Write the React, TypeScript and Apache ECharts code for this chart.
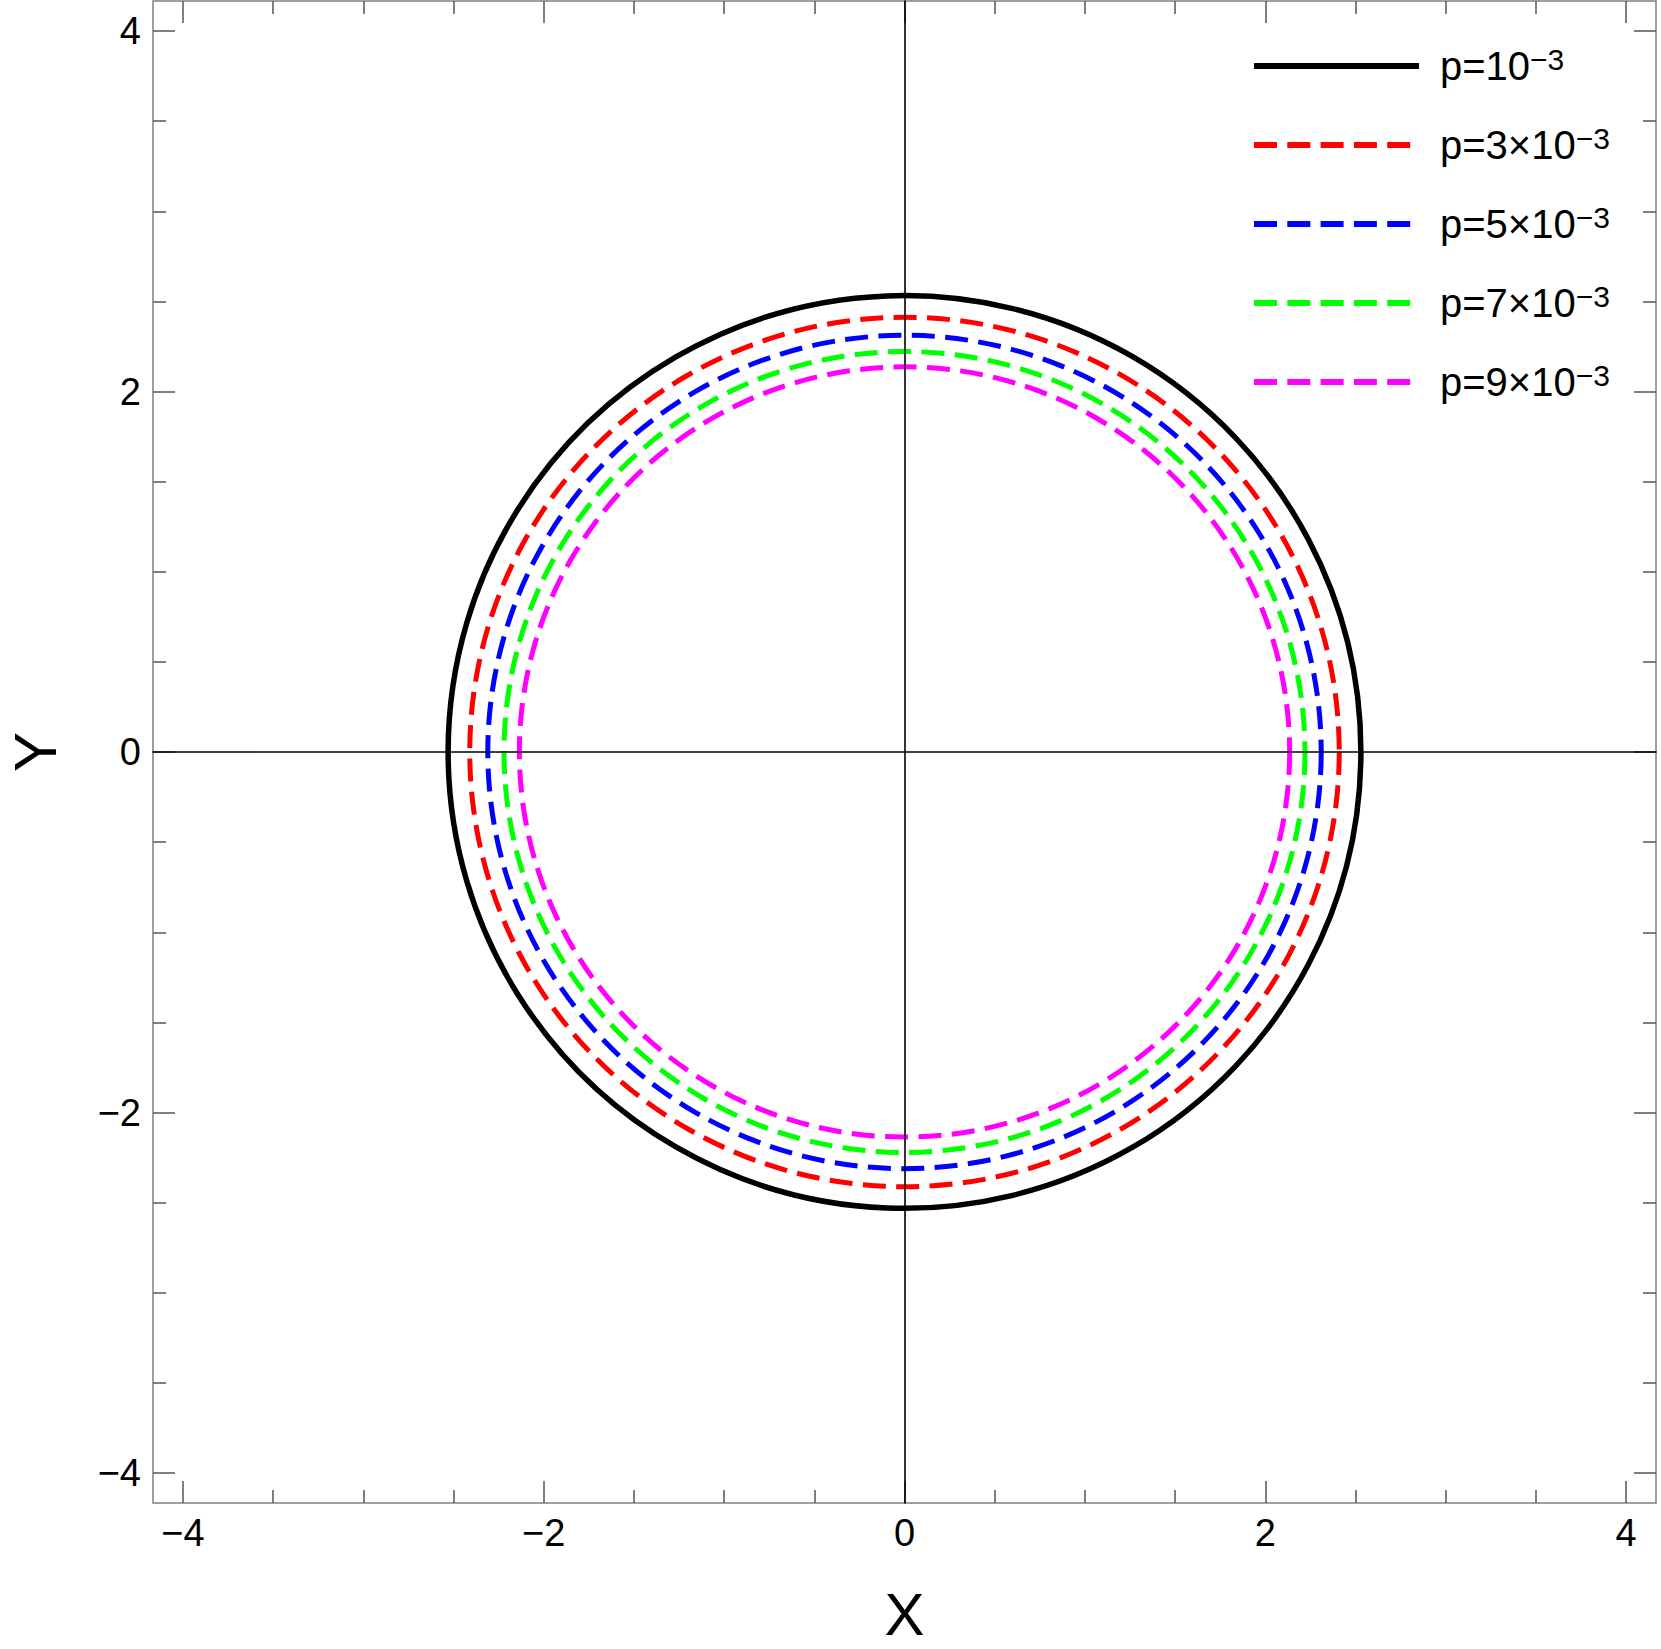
import React, { useEffect, useRef } from "react";
import * as echarts from "echarts";

// ---- data ----
const seriesNames = ["p=10^-3", "p=3x10^-3", "p=5x10^-3", "p=7x10^-3", "p=9x10^-3"];
const legendBase = ["p=10", "p=3×10", "p=5×10", "p=7×10", "p=9×10"];
const legendExp = "−3";
const radii = [2.53, 2.41, 2.31, 2.22, 2.135];
const colors = ["#000000", "#ff0000", "#0000ff", "#00ff00", "#ff00ff"];
const dashed = [false, true, true, true, true];
const tickMin = -4;
const tickMax = 4;
const tickStep = 2;
const plotMin = -4.166;
const plotMax = 4.166;

const FONT = "'Liberation Sans', Arial, Helvetica, sans-serif";
const DASH = [23, 10.4];
const SOLID_ICON = "path://M0,0H165V6H0Z";
const DASH_ICON =
  "path://M0,0H23V6H0Z M33.3,0H56.3V6H33.3Z M66.6,0H89.6V6H66.6Z M99.9,0H122.9V6H99.9Z M133.2,0H156.2V6H133.2Z M164.99,2.99H165V3H164.99Z";

const fmtTick = (v: number) => (v < 0 ? "−" + Math.abs(v) : String(v));

export default function App() {
  const ref = useRef<HTMLDivElement>(null);
  useEffect(() => {
    if (!ref.current) return;
    const chart = echarts.init(ref.current, null, { renderer: "svg" });
    const tickLine = { color: "#555", width: 1.5 };
    const labelStyle = { fontSize: 38, color: "#000", fontFamily: FONT };

    const circleSeries = seriesNames.map((name, i) => ({
      type: "custom",
      name,
      xAxisIndex: 0,
      yAxisIndex: 0,
      z: 3,
      itemStyle: { color: colors[i] },
      encode: { x: 0, y: 1 },
      data: [[radii[i], 0]],
      renderItem: (params: any, api: any) => {
        const c = api.coord([0, 0]);
        const e = api.coord([api.value(0), 0]);
        return {
          type: "circle",
          shape: { cx: c[0], cy: c[1], r: e[0] - c[0] },
          style: {
            fill: "none",
            stroke: colors[i],
            lineWidth: dashed[i] ? 5 : 5.5,
            lineDash: dashed[i] ? DASH : null,
          },
        };
      },
    }));

    const tickAxis = (extra: any) => ({
      type: "value",
      min: tickMin,
      max: tickMax,
      interval: tickStep,
      axisLine: { show: false, onZero: false },
      axisTick: { show: true, inside: true, length: 22, lineStyle: tickLine },
      minorTick: { show: true, splitNumber: 4, length: 13, lineStyle: tickLine },
      splitLine: { show: false },
      ...extra,
    });

    chart.setOption({
      animation: false,
      backgroundColor: "#ffffff",
      textStyle: { fontFamily: FONT },
      grid: [
        { left: 153, top: 1, width: 1503, height: 1502, outerBoundsMode: "none", containLabel: false, show: true, borderColor: "#808080", borderWidth: 1.5, backgroundColor: "transparent" },
        { left: 183, top: 1, width: 1443, height: 1502, outerBoundsMode: "none", containLabel: false },
        { left: 153, top: 31, width: 1503, height: 1442, outerBoundsMode: "none", containLabel: false },
      ],
      xAxis: [
        {
          gridIndex: 0, type: "value", min: plotMin, max: plotMax, z: 5,
          axisLine: { show: true, onZero: true, lineStyle: { color: "#000", width: 1.6 } },
          axisTick: { show: false }, axisLabel: { show: false }, splitLine: { show: false },
        },
        tickAxis({
          gridIndex: 1, position: "bottom",
          axisLabel: { ...labelStyle, margin: 11, formatter: fmtTick },
          name: "X", nameLocation: "middle", nameGap: 88,
          nameTextStyle: { fontSize: 60, lineHeight: 46, color: "#000", fontFamily: FONT },
        }),
        tickAxis({ gridIndex: 1, position: "top", axisLabel: { show: false } }),
        { gridIndex: 2, type: "value", min: -1, max: 1, show: false, splitLine: { show: false } },
      ],
      yAxis: [
        {
          gridIndex: 0, type: "value", min: plotMin, max: plotMax, z: 5,
          axisLine: { show: true, onZero: true, lineStyle: { color: "#000", width: 1.6 } },
          axisTick: { show: false }, axisLabel: { show: false }, splitLine: { show: false },
        },
        { gridIndex: 1, type: "value", min: -1, max: 1, show: false, splitLine: { show: false } },
        tickAxis({
          gridIndex: 2, position: "left",
          axisLabel: { ...labelStyle, margin: 12, formatter: fmtTick },
          name: "Y", nameLocation: "middle", nameGap: 95, nameRotate: 90,
          nameTextStyle: { fontSize: 60, lineHeight: 46, color: "#000", fontFamily: FONT },
        }),
        tickAxis({ gridIndex: 2, position: "right", axisLabel: { show: false } }),
      ],
      legend: {
        orient: "vertical",
        left: 1254,
        top: 44,
        padding: 0,
        itemWidth: 165,
        itemHeight: 6,
        itemGap: 37,
        selectedMode: false,
        data: seriesNames.map((name, i) => ({
          name,
          icon: dashed[i] ? DASH_ICON : SOLID_ICON,
          itemStyle: { color: colors[i] },
        })),
        formatter: (name: string) => {
          const i = seriesNames.indexOf(name);
          return `{m|${legendBase[i]}}{s|${legendExp}}`;
        },
        textStyle: {
          fontFamily: FONT,
          color: "#000",
          rich: {
            m: { fontSize: 40, lineHeight: 44, padding: [0, 0, 0, 16], verticalAlign: "middle", color: "#000", fontFamily: FONT },
            s: { fontSize: 30, lineHeight: 30, verticalAlign: "top", color: "#000", fontFamily: FONT },
          },
        },
      },
      series: circleSeries,
    });
    return () => chart.dispose();
  }, []);
  return (
    <div
      ref={ref}
      style={{ position: "absolute", left: 0, top: 0, width: 1661, height: 1649, background: "#fff" }}
    />
  );
}
